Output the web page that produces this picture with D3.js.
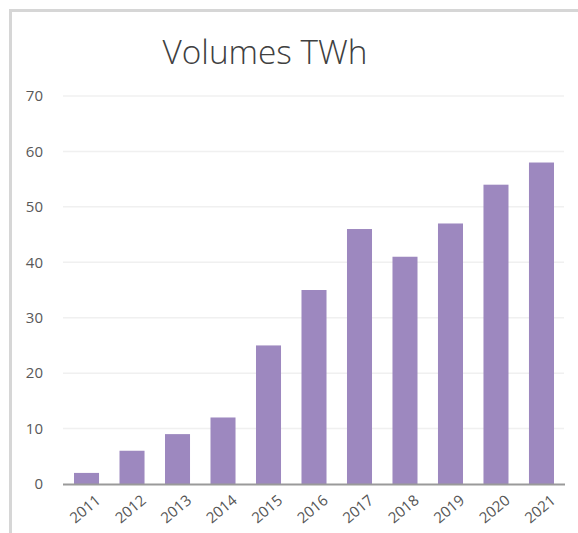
<!DOCTYPE html>
<html>
<head>
<meta charset="utf-8">
<script src="https://cdn.jsdelivr.net/npm/d3@7"></script>
<style>
  html, body { margin: 0; padding: 0; background: #ffffff; }
  svg { display: block; }
</style>
</head>
<body>
<svg id="chart" width="578" height="533"></svg>
<script>
const years = ["2011","2012","2013","2014","2015","2016","2017","2018","2019","2020","2021"];
const volumes = [2, 6, 9, 12, 25, 35, 46, 41, 47, 54, 58];
const yTicks = [0, 10, 20, 30, 40, 50, 60, 70];
const title = "Volumes TWh";

const svg = d3.select("#chart");
const W = 578, H = 533;

// frame
svg.append("rect").attr("x", 0).attr("y", 0).attr("width", W).attr("height", H).attr("fill", "#fff");
svg.append("path")
  .attr("d", "M10.5," + H + " V10.5 H" + W)
  .attr("fill", "none").attr("stroke", "#d6d6d6").attr("stroke-width", 3);

const x = d3.scaleBand().domain(years).range([64, 564]).paddingInner(0.45).paddingOuter(0.22);
const y = d3.scaleLinear().domain([0, 70]).range([484, 96]);

// gridlines
svg.append("g").selectAll("line").data(yTicks.filter(d => d > 0)).join("line")
  .attr("x1", 63).attr("x2", 564)
  .attr("y1", d => y(d)).attr("y2", d => y(d))
  .attr("stroke", "#f0f0f0").attr("stroke-width", 1.5);

// y axis labels
const yAxis = d3.axisLeft(y).tickValues(yTicks).tickSize(0).tickPadding(0);
const gy = svg.append("g").attr("transform", "translate(43,0)").call(yAxis);
gy.select(".domain").remove();
gy.selectAll("text")
  .attr("font-family", "Open Sans, sans-serif").attr("font-size", 15)
  .attr("fill", "#595959");

// bars
svg.append("g").selectAll("rect").data(years).join("rect")
  .attr("x", (d) => x(d))
  .attr("width", x.bandwidth())
  .attr("y", (d, i) => y(volumes[i]))
  .attr("height", (d, i) => y(0) - y(volumes[i]))
  .attr("fill", "#9d88bf");

// baseline + x labels
const xAxis = d3.axisBottom(x).tickSize(0).tickPadding(0);
const gx = svg.append("g").attr("transform", "translate(0," + y(0) + ")").call(xAxis);
gx.select(".domain").attr("d", "M63,0.5 H565").attr("stroke", "#9a9a9a").attr("stroke-width", 2);
gx.selectAll("text")
  .attr("font-family", "Open Sans, sans-serif").attr("font-size", 15)
  .attr("fill", "#555")
  .attr("text-anchor", "end")
  .attr("dy", 0)
  .attr("transform", "translate(15,18) rotate(-40)");

// title
const t = svg.append("text").text(title)
  .attr("x", 265).attr("y", 64)
  .attr("text-anchor", "middle")
  .attr("font-family", "Open Sans, sans-serif").attr("font-weight", 300).attr("font-size", 34)
  .attr("fill", "#404040");
const tw = t.node().getComputedTextLength();
t.attr("font-size", 34 * 205 / tw);
</script>
</body>
</html>
